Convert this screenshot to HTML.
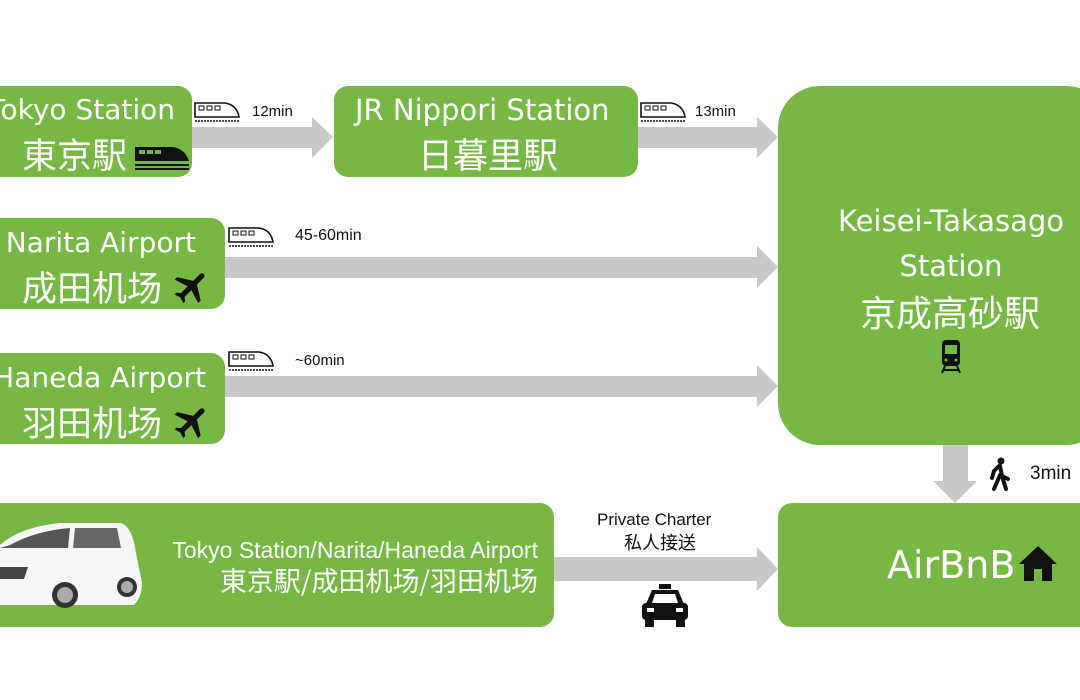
<!DOCTYPE html>
<html><head><meta charset="utf-8"><style>
body{margin:0;width:1080px;height:700px;background:#fff;position:relative;overflow:hidden;font-family:"Liberation Sans","Noto Sans CJK SC",sans-serif}
.b{position:absolute;background:#76b843;border-radius:14px}
.t{position:absolute;color:#fff;white-space:nowrap;font-family:"DejaVu Sans","Noto Sans CJK SC",sans-serif;line-height:1}
.c{position:absolute;color:#fff;white-space:nowrap;font-family:"Noto Sans CJK SC",sans-serif;line-height:1}
.l{position:absolute;color:#111;white-space:nowrap;line-height:1;font-size:15px}
svg{position:absolute;left:0;top:0}
</style></head><body>
<svg width="1080" height="700">
<g fill="#c8c8c8">
<polygon points="192,127 312,127 312,117 333,137 312,158 312,148 192,148"/>
<polygon points="638,127 757,127 757,117 778,137 757,158 757,148 638,148"/>
<polygon points="225,257 757,257 757,246 778,267 757,288 757,278 225,278"/>
<polygon points="225,376 757,376 757,365 778,386 757,407 757,397 225,397"/>
<polygon points="554,557 757,557 757,547 778,569 757,591 757,581 554,581"/>
<polygon points="943,445 968,445 968,481 977,481 955,503 933,481 943,481"/>
</g>
</svg>
<div class="b" style="left:-20px;top:86px;width:212px;height:91px"></div>
<div class="b" style="left:334px;top:86px;width:304px;height:91px"></div>
<div class="b" style="left:-20px;top:218px;width:245px;height:91px"></div>
<div class="b" style="left:-20px;top:353px;width:245px;height:91px"></div>
<div class="b" style="left:778px;top:86px;width:330px;height:359px;border-radius:42px"></div>
<div class="b" style="left:-20px;top:503px;width:574px;height:124px"></div>
<div class="b" style="left:778px;top:503px;width:330px;height:124px"></div>

<div class="t" style="right:905px;top:96px;font-size:28px">Tokyo Station</div>
<div class="c" style="left:22px;top:136px;font-size:35px">東京駅</div>
<svg style="left:133px;top:143px" width="58" height="30" viewBox="0 0 58 30"><path d="M2 4h38q12 2 16 14H2z" fill="#111"/><rect x="6" y="7" width="6" height="4" fill="#76b843"/><rect x="14" y="7" width="6" height="4" fill="#76b843"/><rect x="22" y="7" width="6" height="4" fill="#76b843"/><rect x="2" y="21" width="54" height="2" fill="#111"/><rect x="2" y="25" width="54" height="2" fill="#111"/></svg>
<div class="t" style="left:355px;top:96px;font-size:29px">JR Nippori Station</div>
<div class="c" style="left:418px;top:136px;font-size:35px">日暮里駅</div>
<div class="t" style="right:884px;top:229px;font-size:28px">Narita Airport</div>
<div class="c" style="left:22px;top:269px;font-size:35px">成田机场</div>
<div class="t" style="right:874px;top:364px;font-size:28px">Haneda Airport</div>
<div class="c" style="left:22px;top:404px;font-size:35px">羽田机场</div>
<svg style="left:170px;top:266px" width="44" height="42" viewBox="0 0 24 24"><path fill="#111" d="M21 16v-2l-8-5V3.5a1.5 1.5 0 0 0-3 0V9l-8 5v2l8-2.5V19l-2 1.5V22l3.5-1 3.5 1v-1.5L13 19v-5.5z" transform="rotate(45 12 12)"/></svg>
<svg style="left:170px;top:401px" width="44" height="42" viewBox="0 0 24 24"><path fill="#111" d="M21 16v-2l-8-5V3.5a1.5 1.5 0 0 0-3 0V9l-8 5v2l8-2.5V19l-2 1.5V22l3.5-1 3.5 1v-1.5L13 19v-5.5z" transform="rotate(45 12 12)"/></svg>

<div class="t" style="left:838px;top:207px;font-size:29px;width:226px;text-align:center">Keisei-Takasago</div>
<div class="t" style="left:838px;top:252px;font-size:29px;width:226px;text-align:center">Station</div>
<div class="c" style="left:860px;top:293px;font-size:36px">京成高砂駅</div>
<svg style="left:940px;top:339px" width="22" height="35" viewBox="0 0 22 35"><rect x="2" y="1" width="18" height="26" rx="4" fill="#111"/><rect x="5" y="6" width="12" height="9" fill="#76b843"/><circle cx="6" cy="21" r="1.5" fill="#76b843"/><circle cx="16" cy="21" r="1.5" fill="#76b843"/><path d="M5 27l-3 7M17 27l3 7M4 31h14" stroke="#111" stroke-width="2"/></svg>
<div class="t" style="left:887px;top:546px;font-size:38px">AirBnB</div>
<svg style="left:1018px;top:544px" width="40" height="38" viewBox="0 0 40 38"><path d="M20 2L1 20h5v17h28V20h5z" fill="#111"/><rect x="16" y="25" width="8" height="12" fill="#76b843"/></svg>

<div class="t" style="right:542px;top:539px;font-size:23px;font-family:'Liberation Sans','Noto Sans CJK SC',sans-serif">Tokyo Station/Narita/Haneda Airport</div>
<div class="c" style="right:542px;top:566px;font-size:27px">東京駅/成田机场/羽田机场</div>
<svg style="left:0;top:515px" width="150" height="100" viewBox="0 0 150 100"><path d="M0 30q20-18 60-22h60q12 2 16 30l6 30q0 14-8 22H0z" fill="#f6f6f6"/><path d="M10 30q25-14 60-17l-2 20H0z" fill="#555"/><path d="M75 13h42l4 20H73z" fill="#666"/><path d="M0 52h28l-4 12H0z" fill="#444"/><circle cx="65" cy="80" r="13" fill="#333"/><circle cx="65" cy="80" r="8" fill="#aaa"/><circle cx="127" cy="72" r="10" fill="#333"/><circle cx="127" cy="72" r="6" fill="#aaa"/></svg>

<div class="l" style="left:252px;top:104px">12min</div>
<div class="l" style="left:695px;top:104px">13min</div>
<div class="l" style="left:295px;top:228px;font-size:16px">45-60min</div>
<div class="l" style="left:295px;top:353px">~60min</div>
<div class="l" style="left:597px;top:511px;font-size:17px">Private Charter</div>
<div class="l" style="left:624px;top:533px;font-size:18px;font-family:'Noto Sans CJK SC',sans-serif">私人接送</div>
<div class="l" style="left:1030px;top:464px;font-size:19px">3min</div>
<svg style="left:988px;top:457px" width="24" height="34" viewBox="0 0 24 34"><circle cx="13" cy="4" r="3.5" fill="#111"/><path d="M11 9l-5 5-2 7M12 9l2 10 6 3M12 18l-6 14M14 19l4 13" stroke="#111" stroke-width="4" fill="none" stroke-linecap="round"/></svg>
<svg style="left:640px;top:584px" width="50" height="44" viewBox="0 0 50 44"><rect x="19" y="0" width="12" height="5" fill="#111"/><path d="M12 6h26l6 14H6z" fill="#111"/><path d="M15 10h20l3 9H12z" fill="#fff"/><rect x="2" y="19" width="46" height="17" rx="4" fill="#111"/><rect x="5" y="35" width="9" height="8" fill="#111"/><rect x="36" y="35" width="9" height="8" fill="#111"/><rect x="7" y="24" width="7" height="4" fill="#fff"/><rect x="36" y="24" width="7" height="4" fill="#fff"/></svg>
<svg style="left:194px;top:100px" width="46" height="24" viewBox="0 0 46 24"><path d="M1 3h30q12 2 14 14H1z" fill="none" stroke="#111" stroke-width="1.6"/><rect x="5" y="6" width="5" height="4" fill="none" stroke="#111"/><rect x="13" y="6" width="5" height="4" fill="none" stroke="#111"/><rect x="21" y="6" width="5" height="4" fill="none" stroke="#111"/><path d="M1 21h44" stroke="#111" stroke-width="1.5" stroke-dasharray="2 1"/></svg>
<svg style="left:640px;top:100px" width="46" height="24" viewBox="0 0 46 24"><path d="M1 3h30q12 2 14 14H1z" fill="none" stroke="#111" stroke-width="1.6"/><rect x="5" y="6" width="5" height="4" fill="none" stroke="#111"/><rect x="13" y="6" width="5" height="4" fill="none" stroke="#111"/><rect x="21" y="6" width="5" height="4" fill="none" stroke="#111"/><path d="M1 21h44" stroke="#111" stroke-width="1.5" stroke-dasharray="2 1"/></svg>
<svg style="left:228px;top:225px" width="46" height="24" viewBox="0 0 46 24"><path d="M1 3h30q12 2 14 14H1z" fill="none" stroke="#111" stroke-width="1.6"/><rect x="5" y="6" width="5" height="4" fill="none" stroke="#111"/><rect x="13" y="6" width="5" height="4" fill="none" stroke="#111"/><rect x="21" y="6" width="5" height="4" fill="none" stroke="#111"/><path d="M1 21h44" stroke="#111" stroke-width="1.5" stroke-dasharray="2 1"/></svg>
<svg style="left:228px;top:349px" width="46" height="24" viewBox="0 0 46 24"><path d="M1 3h30q12 2 14 14H1z" fill="none" stroke="#111" stroke-width="1.6"/><rect x="5" y="6" width="5" height="4" fill="none" stroke="#111"/><rect x="13" y="6" width="5" height="4" fill="none" stroke="#111"/><rect x="21" y="6" width="5" height="4" fill="none" stroke="#111"/><path d="M1 21h44" stroke="#111" stroke-width="1.5" stroke-dasharray="2 1"/></svg>
</body></html>
